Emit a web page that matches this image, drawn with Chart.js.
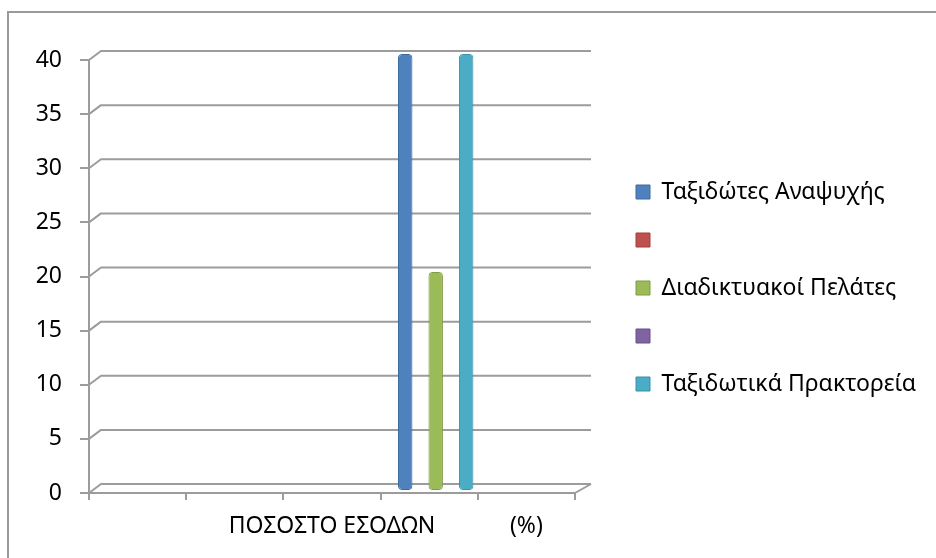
<!DOCTYPE html>
<html>
<head>
<meta charset="utf-8">
<script src="https://cdn.jsdelivr.net/npm/chart.js@4.4.1/dist/chart.umd.min.js"></script>
<style>
  html, body { margin: 0; padding: 0; background: #fff; overflow: hidden; }
  #wrap { position: relative; width: 936px; height: 558px; }
  #frame { position: absolute; left: 7px; top: 11px; width: 1000px; height: 1000px;
           border-left: 2px solid #9a9a9a; border-top: 2px solid #9a9a9a; }
  canvas { position: absolute; left: 0; top: 0; }
</style>
</head>
<body>
<div id="wrap">
  <div id="frame"></div>
  <canvas id="chart" width="936" height="558"></canvas>
</div>
<script>
// categories along the floor (only two carry text)
const categories = ['', '', 'ΠΟΣΟΣΤΟ ΕΣΟΔΩΝ', '', '(%)'];

// series names, as shown in the legend
const seriesNames = ['Ταξιδώτες Αναψυχής', '', 'Διαδικτυακοί Πελάτες', '', 'Ταξιδωτικά Πρακτορεία'];

// series values
const leisureTravellers = [null, null, null, 40, null];
const seriesTwo = [null, null, null, null, null];
const onlineCustomers = [null, null, null, 20, null];
const seriesFour = [null, null, null, null, null];
const travelAgencies = [null, null, null, 40, null];

// value axis
const yMin = 0;
const yMax = 40;
const yStep = 5;

const seriesColors = ['#4F81BD', '#C0504D', '#9BBB59', '#8064A2', '#4BACC6'];
const seriesEdges = ['#3d6a9e', '#9e3f3c', '#7f9c45', '#66508a', '#3a90a8'];

const GRID = '#9c9c9c';
const FONT = "'Noto Sans', 'DejaVu Sans', sans-serif";

// draws the back wall / floor lines of the 3-D look
const wallPlugin = {
  id: 'walls',
  beforeDatasetsDraw(chart) {
    const { ctx, chartArea } = chart;
    const ys = chart.scales.y;
    const dx = 12, dy = 9, back = 16;
    ctx.save();
    ctx.strokeStyle = GRID;
    ctx.lineWidth = 2;
    ctx.lineJoin = 'round';
    for (let v = yMin; v <= yMax; v += yStep) {
      const y = ys.getPixelForValue(v);
      ctx.beginPath();
      ctx.moveTo(chartArea.left, y);
      ctx.lineTo(chartArea.left + dx, y - dy);
      ctx.lineTo(chartArea.right + back, y - dy);
      ctx.stroke();
    }
    const y0 = ys.getPixelForValue(yMin);
    ctx.beginPath();
    ctx.moveTo(chartArea.right, y0);
    ctx.lineTo(chartArea.right + back, y0 - dy);
    ctx.stroke();
    ctx.restore();
  },
  // bars stand half-way into the depth
  afterLayout(chart) {
    const xb = chart.scales.xb, yb = chart.scales.yb;
    xb.left += 6.5; xb.right += 6.5; xb.configure();
    yb.top -= 6; yb.bottom -= 3; yb.configure();
  }
};

const seriesData = [leisureTravellers, seriesTwo, onlineCustomers, seriesFour, travelAgencies];

new Chart(document.getElementById('chart'), {
  type: 'bar',
  data: {
    labels: categories,
    datasets: seriesData.map((d, i) => ({
      label: seriesNames[i],
      data: d,
      xAxisID: 'xb',
      yAxisID: 'yb',
      backgroundColor: seriesColors[i],
      borderColor: seriesEdges[i],
      borderWidth: 1,
      borderRadius: 4,
      borderSkipped: false,
      categoryPercentage: 0.784,
      barPercentage: 0.95
    }))
  },
  options: {
    responsive: false,
    animation: false,
    events: [],
    layout: { padding: { top: 18, bottom: 0, left: 0, right: 10 } },
    plugins: {
      tooltip: { enabled: false },
      title: { display: false },
      legend: {
        position: 'right',
        maxWidth: 400,
        labels: {
          boxWidth: 14,
          boxHeight: 14,
          padding: 25,
          color: '#000',
          font: { family: FONT, size: 23 }
        }
      }
    },
    scales: {
      x: {
        type: 'category',
        position: 'bottom',
        offset: true,
        grid: { display: true, offset: true, drawOnChartArea: false, drawTicks: true,
                tickLength: 7, color: GRID, lineWidth: 2 },
        border: { display: true, color: GRID, width: 2 },
        ticks: { color: '#000', font: { family: FONT, size: 23 }, padding: 13,
                 autoSkip: false, maxRotation: 0 },
        afterFit(s) { s.height = 65; }
      },
      y: {
        type: 'linear',
        position: 'left',
        min: yMin,
        max: yMax,
        grid: { display: true, drawOnChartArea: false, drawTicks: true,
                tickLength: 9, color: GRID, lineWidth: 2 },
        border: { display: true, color: GRID, width: 2 },
        ticks: { stepSize: yStep, color: '#000', font: { family: FONT, size: 23 }, padding: 18 },
        afterFit(s) { s.width = 89; }
      },
      xb: {
        type: 'category',
        position: 'top',
        offset: true,
        grid: { display: false },
        border: { display: false },
        ticks: { display: false },
        afterFit(s) { s.height = 42; }
      },
      yb: {
        type: 'linear',
        position: 'right',
        min: yMin,
        max: yMax,
        grid: { display: false },
        border: { display: false },
        ticks: { display: false },
        afterFit(s) {
          const lg = s.chart.legend;
          s.width = Math.max(0, s.chart.width - 10 - (lg ? lg.width : 0) - 575);
        }
      }
    }
  },
  plugins: [wallPlugin]
});
</script>
</body>
</html>
